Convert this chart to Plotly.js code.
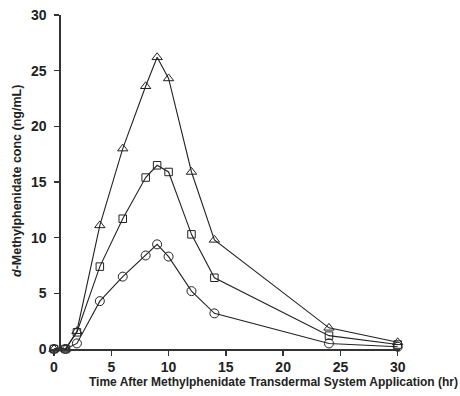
<!DOCTYPE html>
<html>
<head>
<meta charset="utf-8">
<script src="https://cdn.plot.ly/plotly-3.0.1.min.js"></script>
<style>html,body{margin:0;padding:0;background:#fff;}#chart{width:460px;height:396px;}</style>
</head>
<body>
<div id="chart"></div>
<script>
// Time after application (hr)
const hours = [0, 1, 2, 4, 6, 8, 9, 10, 12, 14, 24, 30];
// d-Methylphenidate concentration (ng/mL) for three doses
const highDose = [0, 0, 1.6, 11.1, 18.0, 23.6, 26.2, 24.3, 15.9, 9.8, 1.9, 0.6];
const midDose  = [0, 0, 1.5, 7.4, 11.7, 15.4, 16.5, 15.9, 10.3, 6.4, 1.2, 0.4];
const lowDose  = [0, 0, 0.5, 4.3, 6.5, 8.4, 9.4, 8.3, 5.2, 3.2, 0.5, 0.2];
const xTicks = [0, 5, 10, 15, 20, 25, 30];
const yTicks = [0, 5, 10, 15, 20, 25, 30];

const font = 'Liberation Sans, Arial, sans-serif';
function series(y, sym, name, size) {
  return {
    x: hours, y: y, name: name, type: 'scatter', mode: 'lines+markers',
    line: {color: '#222', width: 1.1},
    marker: {symbol: sym, size: size, color: '#222', line: {width: 1, color: '#222'}},
    cliponaxis: false
  };
}
const data = [
  series(lowDose, 'circle-open', 'Low', 9),
  series(midDose, 'square-open', 'Mid', 7.5),
  series(highDose, 'triangle-up-open', 'High', 9)
];
const layout = {
  width: 460, height: 396,
  margin: {l: 50, r: 60, t: 15, b: 47},
  showlegend: false,
  paper_bgcolor: '#fff', plot_bgcolor: '#fff',
  xaxis: {
    range: [-0.35, 30.2], tickvals: xTicks, ticktext: xTicks.map(String),
    showgrid: false, zeroline: false, showline: true, linecolor: '#333', linewidth: 1.6,
    ticks: 'outside', ticklen: 5, tickwidth: 1.4, tickcolor: '#333',
    tickfont: {family: font, size: 14, weight: 'bold', color: '#222'}
  },
  yaxis: {
    range: [0, 30], tickvals: yTicks, ticktext: yTicks.map(String),
    anchor: 'free', position: 0.027,
    showgrid: false, zeroline: false, showline: true, linecolor: '#333', linewidth: 1.6,
    ticks: 'outside', ticklen: 5, tickwidth: 1.4, tickcolor: '#333', ticklabelstandoff: 5,
    tickfont: {family: font, size: 14, weight: 'bold', color: '#222'}
  },
  annotations: [
    {text: 'Time After Methylphenidate Transdermal System Application (hr)',
     xref: 'paper', yref: 'paper', x: (273 - 50) / 350, y: -(382 - 349) / 334,
     xanchor: 'center', yanchor: 'middle', showarrow: false,
     font: {family: font, size: 12, weight: 'bold', color: '#222'}},
    {text: '<i>d</i>-Methylphenidate conc (ng/mL)',
     xref: 'paper', yref: 'paper', x: (17 - 50) / 350, y: (349 - 181) / 334,
     xanchor: 'center', yanchor: 'middle', textangle: -90, showarrow: false,
     font: {family: font, size: 12.5, weight: 'bold', color: '#222'}}
  ]
};
Plotly.newPlot('chart', data, layout, {displayModeBar: false, staticPlot: true});
</script>
</body>
</html>
